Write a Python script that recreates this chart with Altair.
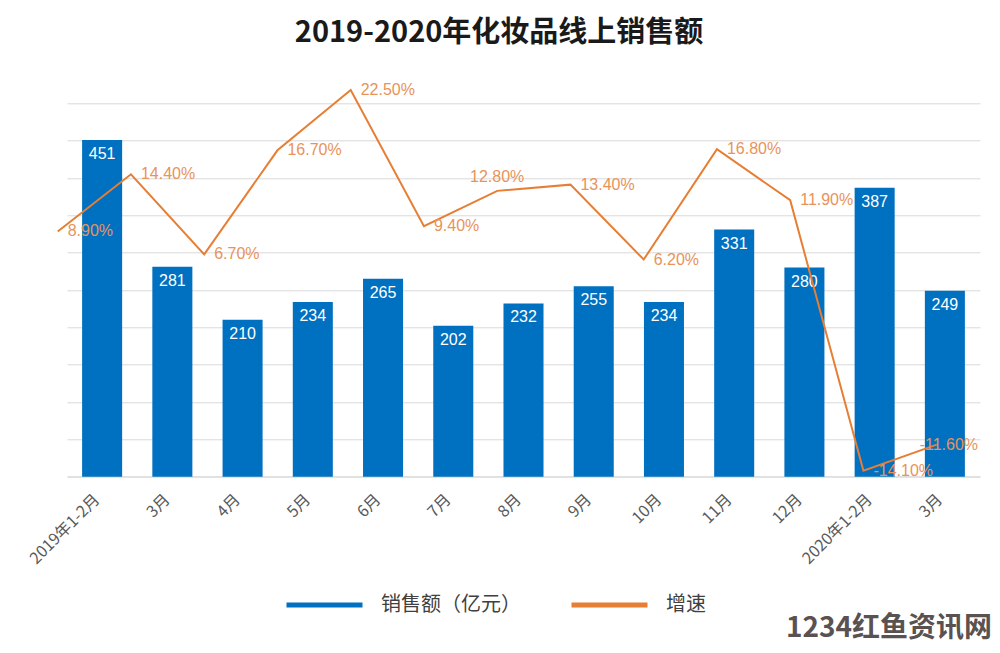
import json
import altair as alt
import pandas as pd

MONTHS = ["2019年1-2月", "3月", "4月", "5月", "6月", "7月", "8月", "9月",
          "10月", "11月", "12月", "2020年1-2月", "3月"]
SALES = [451, 281, 210, 234, 265, 202, 232, 255, 234, 331, 280, 387, 249]
GROWTH = [8.9, 14.4, 6.7, 16.7, 22.5, 9.4, 12.8, 13.4, 6.2, 16.8, 11.9, -14.1, -11.6]
SERIES = ["销售额（亿元）", "增速"]
TITLE = "2019-2020年化妆品线上销售额"
WATERMARK = "1234红鱼资讯网"

# label placement styles (index -> style)
ABOVE_IDX = [6]
SHIFT_IDX = [12]

df = pd.DataFrame({"idx": list(range(len(MONTHS))), "sales": SALES, "growth": GROWTH})
df["series"] = SERIES[1]
df["glabel"] = [f"{g:.2f}%" for g in GROWTH]

W, H = 913, 373.4
BLUE = "#0070C0"
ORANGE = "#E67E34"
LABEL_ORANGE = "#E8935A"
CJK = "Noto Sans CJK SC"
NUM = "Liberation Sans"

label_expr = json.dumps(MONTHS, ensure_ascii=False) + "[datum.value]"

xband = alt.X(
    "idx:O",
    scale=alt.Scale(paddingInner=0.43, paddingOuter=0.215),
    axis=alt.Axis(
        title=None, labelExpr=label_expr, labelAngle=315, labelAlign="right",
        labelBaseline="middle", labelPadding=20, labelOffset=-5, ticks=False,
        domainColor="#d9d9d9", domainWidth=1, labelFont=CJK, labelFontSize=16,
        labelColor="#595959", grid=False,
    ),
)
ybar = alt.Y(
    "sales:Q",
    scale=alt.Scale(domain=[0, 500], nice=False),
    axis=alt.Axis(title=None, labels=False, ticks=False, domain=False,
                  values=list(range(0, 501, 50)), gridColor="#d9d9d9", gridWidth=1),
)

base = alt.Chart(df)
bars = base.mark_bar(color=BLUE).encode(x=xband, y=ybar)
bar_text = base.mark_text(color="white", baseline="middle", dy=14, fontSize=16,
                          font=NUM).encode(x=xband, y=ybar, text="sales:Q")
bar_layer = alt.layer(bars, bar_text)

xq = alt.X("idx:Q", scale=alt.Scale(domain=[0.127, 12.591], nice=False, zero=False), axis=None)
yq = alt.Y("growth:Q", scale=alt.Scale(domain=[-14.68, 21.22], nice=False, zero=False), axis=None)

line = base.mark_line(strokeWidth=2, clip=False).encode(
    x=xq, y=yq,
    color=alt.Color(
        "series:N",
        scale=alt.Scale(domain=SERIES, range=[BLUE, ORANGE]),
        legend=alt.Legend(
            title=None, orient="none", legendX=217, legendY=461, direction="horizontal",
            symbolType="stroke", symbolSize=5776, symbolStrokeWidth=5,
            labelFont=CJK, labelFontSize=20, labelColor="#404040", labelOffset=16,
            columnPadding=40, padding=0, labelLimit=400,
        ),
    ),
)

rest_filter = alt.FieldOneOfPredicate(field="idx", oneOf=[i for i in range(len(MONTHS)) if i not in ABOVE_IDX + SHIFT_IDX])
lbl_right = base.transform_filter(rest_filter).mark_text(
    align="left", baseline="middle", dx=10, fontSize=16, font=NUM, color=LABEL_ORANGE, clip=False
).encode(x=xq, y=yq, text="glabel:N")
lbl_above = base.transform_filter(alt.FieldOneOfPredicate(field="idx", oneOf=ABOVE_IDX)).mark_text(
    align="center", baseline="middle", dy=-14, fontSize=16, font=NUM, color=LABEL_ORANGE, clip=False
).encode(x=xq, y=yq, text="glabel:N")
lbl_shift = base.transform_filter(alt.FieldOneOfPredicate(field="idx", oneOf=SHIFT_IDX)).mark_text(
    align="left", baseline="middle", dx=-17, fontSize=16, font=NUM, color=LABEL_ORANGE, clip=False
).encode(x=xq, y=yq, text="glabel:N")

line_layer = alt.layer(line, lbl_right, lbl_above, lbl_shift)

title = alt.Chart(pd.DataFrame({"t": [TITLE]})).mark_text(
    font=CJK, fontSize=29, fontWeight="bold", color="#1a1a1a", align="center", baseline="middle"
).encode(x=alt.value(432), y=alt.value(-70), text="t:N")

wm = alt.Chart(pd.DataFrame({"t": [WATERMARK]})).mark_text(
    font=CJK, fontSize=28, fontWeight="bold", color="#5a5151", align="center", baseline="middle"
).encode(x=alt.value(822), y=alt.value(526), text="t:N")

chart = alt.layer(bar_layer, line_layer, title, wm).resolve_scale(
    x="independent", y="independent"
).properties(
    width=W, height=H, autosize="none",
    padding={"left": 59, "top": 95.3, "right": 12, "bottom": 168},
    background="white",
).configure_view(stroke=None)

chart.save("out.html", embed_options={"renderer": "svg", "actions": False})
